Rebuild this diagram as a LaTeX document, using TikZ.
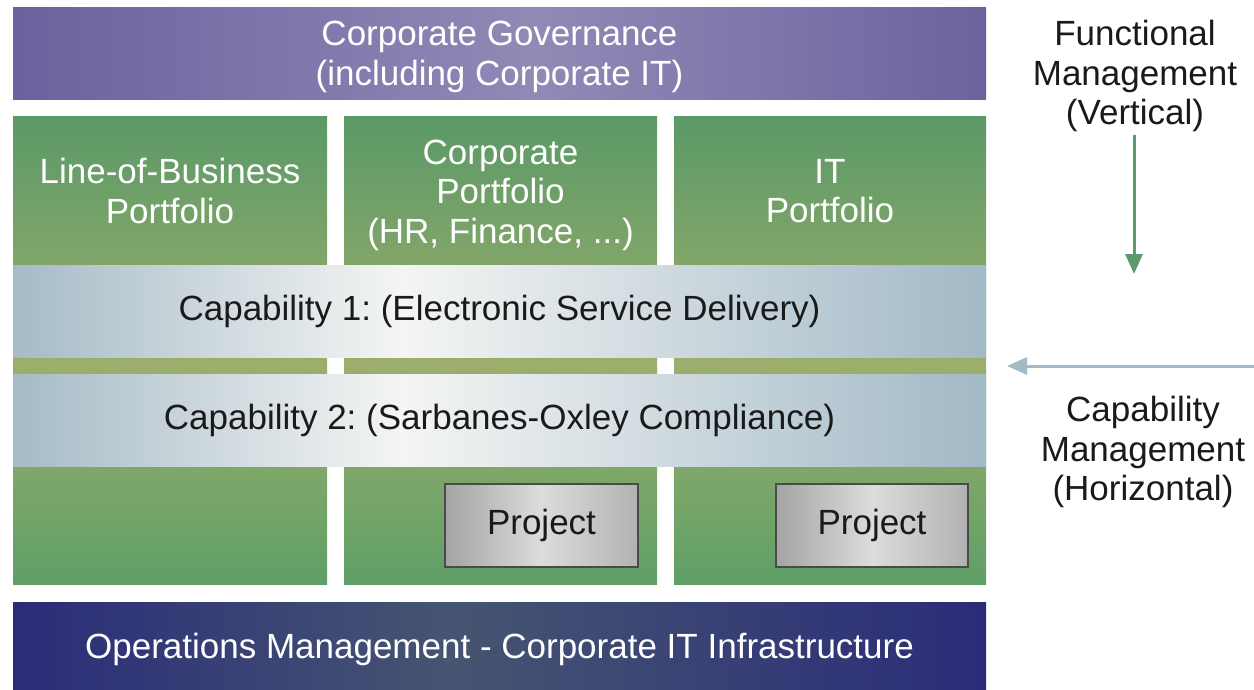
\documentclass[tikz,border=0pt]{standalone}
\usepackage{fontspec}
\setmainfont{Liberation Sans}
\usetikzlibrary{arrows.meta}
\frenchspacing
\definecolor{purL}{HTML}{6C619E}
\definecolor{purM}{HTML}{908AB6}
\definecolor{purR}{HTML}{6B639E}
\definecolor{navy}{HTML}{2A2C79}
\definecolor{slate}{HTML}{465571}
\definecolor{grT}{HTML}{5B9967}
\definecolor{grM}{HTML}{9CAE6B}
\definecolor{grB}{HTML}{5F9F67}
\definecolor{capL}{HTML}{A6BBC6}
\definecolor{capM}{HTML}{F4F5F4}
\definecolor{capR}{HTML}{A2B9C6}
\definecolor{prL}{HTML}{A4A4A4}
\definecolor{prM}{HTML}{DCDCDC}
\definecolor{prR}{HTML}{B2B2B2}
\definecolor{prB}{HTML}{4A4A4A}
\definecolor{arG}{HTML}{5C9A6C}
\definecolor{arB}{HTML}{A3BAC6}
\definecolor{txt}{HTML}{1A1A1A}
\pgfdeclarehorizontalshading{purpshade}{100bp}{color(0bp)=(purL); color(25bp)=(purL); color(52bp)=(purM); color(75bp)=(purR); color(100bp)=(purR)}
\pgfdeclarehorizontalshading{navyshade}{100bp}{color(0bp)=(navy); color(25bp)=(navy); color(47.5bp)=(slate); color(75bp)=(navy); color(100bp)=(navy)}
\pgfdeclarehorizontalshading{capshade}{100bp}{color(0bp)=(capL); color(25bp)=(capL); color(45bp)=(capM); color(75bp)=(capR); color(100bp)=(capR)}
\pgfdeclarehorizontalshading{projshade}{100bp}{color(0bp)=(prL); color(25bp)=(prL); color(50bp)=(prM); color(75bp)=(prR); color(100bp)=(prR)}
\pgfdeclareverticalshading{greenshade}{100bp}{color(0bp)=(grB); color(25bp)=(grB); color(48.4bp)=(grM); color(75bp)=(grT); color(100bp)=(grT)}
\begin{document}
\begin{tikzpicture}[x=1pt,y=-1pt,
  box/.style={rectangle, inner sep=0pt, outer sep=0pt, draw=none},
  big/.style={font=\fontsize{35}{39.5}\selectfont, align=center},
  wtext/.style={big, text=white},
  btext/.style={big, text=txt},
  column/.style={box, shading=greenshade, minimum width=#1, minimum height=467pt},
  band/.style={box, shading=capshade, minimum width=973pt, minimum height=92pt, btext},
  projbox/.style={rectangle, inner sep=0pt, outer sep=0pt, shading=projshade, draw=prB, line width=1.5pt, minimum height=83pt, btext},
  varrow/.style={draw=arG, line width=3pt, -{Triangle[length=20pt,width=17pt]}},
  harrow/.style={draw=arB, line width=3pt, -{Triangle[length=20pt,width=17pt]}}
]
\useasboundingbox (0,0) rectangle (1254,690);
\node[box, shading=purpshade, minimum width=973pt, minimum height=92pt] (gov) at (499.5,54) {};
\node[wtext] (govt) at (499.5,57) {Corporate Governance\\(including Corporate IT)};
\node[column=314pt] (col1) at (170,350.5) {};
\node[column=313pt] (col2) at (500.5,350.5) {};
\node[column=312pt] (col3) at (830,350.5) {};
\node[wtext] (lob) at (170,191) {Line-of-Business\\Portfolio};
\node[wtext] (cp) at (500.5,195) {Corporate\\Portfolio\\(HR, Finance, ...)};
\node[wtext] (itp) at (830,191) {IT\\Portfolio};
\node[band] (cap1) at (499.5,311) {Capability 1: (Electronic Service Delivery)};
\node[band] (cap2) at (499.5,420.5) {Capability 2: (Sarbanes-Oxley Compliance)};
\node[projbox, minimum width=193pt] (proj1) at (541.5,525.5) {Project};
\node[projbox, minimum width=192pt] (proj2) at (872,525.5) {Project};
\node[box, shading=navyshade, minimum width=973pt, minimum height=88pt] (ops) at (499.5,646) {};
\node[wtext] (opst) at (499.5,649) {Operations Management - Corporate IT Infrastructure};
\node[btext] (fm) at (1135,76) {Functional\\Management\\(Vertical)};
\node[btext] (cm) at (1143,452) {Capability\\Management\\(Horizontal)};
\coordinate (va1) at (1134,135);
\coordinate (va2) at (1134,274);
\coordinate (ha1) at (1254,366);
\coordinate (ha2) at (1007,366);
\draw[varrow] (va1) -- (va2);
\draw[harrow] (ha1) -- (ha2);
\end{tikzpicture}
\end{document}
